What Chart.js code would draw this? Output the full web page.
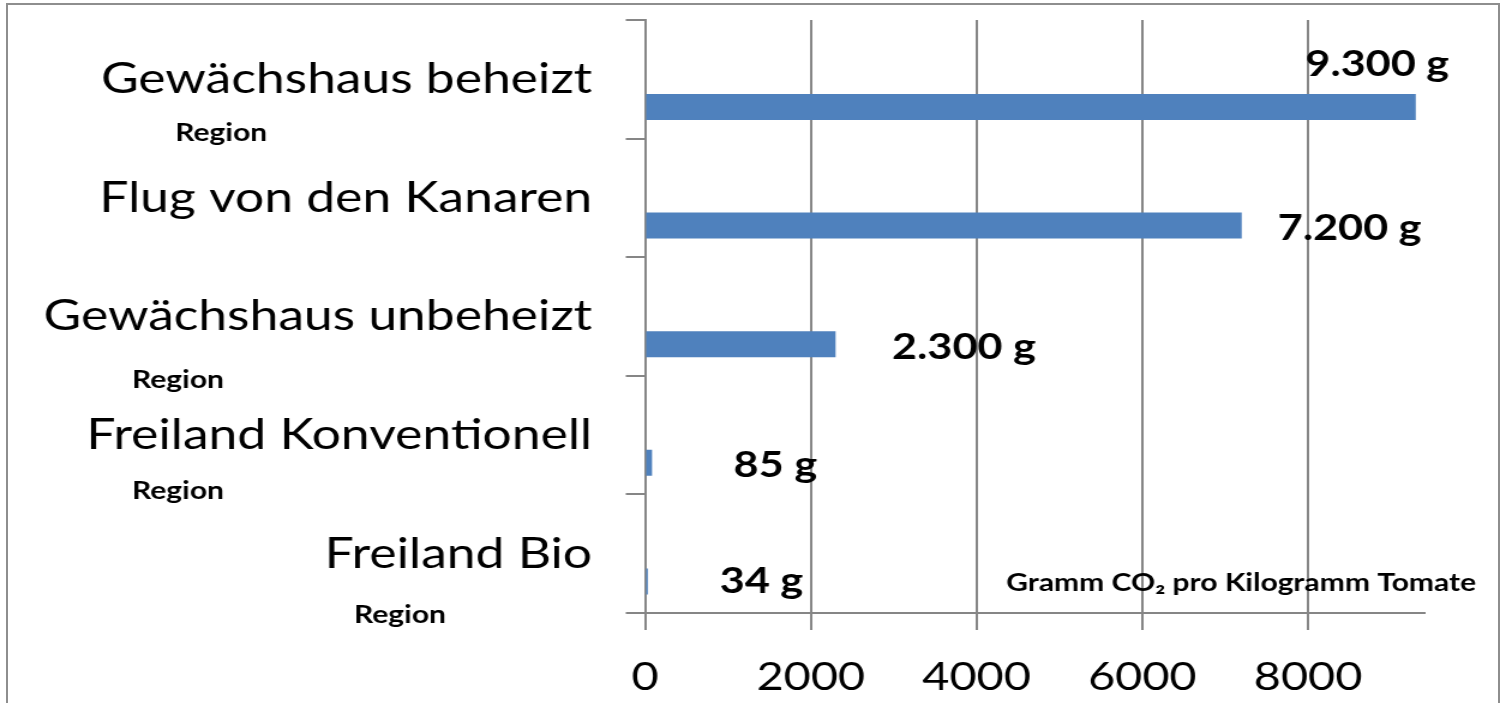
<!DOCTYPE html>
<html>
<head>
<meta charset="utf-8">
<script src="https://cdn.jsdelivr.net/npm/chart.js@4/dist/chart.umd.min.js"></script>
<style>
  html, body { margin: 0; padding: 0; background: #fff; overflow: hidden; }
  #frame { position: absolute; left: 6px; top: 3px; width: 1490px; height: 720px; border: 2px solid #8e8e8e; border-bottom: none; }
  /* the original picture is stretched sideways, so the canvas is too */
  #wrap { position: absolute; left: 0; top: 0; width: 1253.33px; height: 703px; transform: scaleX(1.2); transform-origin: 0 0; }
</style>
</head>
<body>
<div id="frame"></div>
<div id="wrap"><canvas id="chart"></canvas></div>
<script>
const categories = ['Gewächshaus beheizt', 'Flug von den Kanaren', 'Gewächshaus unbeheizt', 'Freiland Konventionell', 'Freiland Bio'];
const values = [9300, 7200, 2300, 85, 34];
const valueLabels = ['9.300 g', '7.200 g', '2.300 g', '85 g', '34 g'];
const subLabels = ['Region', '', 'Region', 'Region', 'Region'];
const xTicks = [0, 2000, 4000, 6000, 8000];
const unitText = 'Gramm CO\u2082 pro Kilogramm Tomate';

const FONT = 'Lato, "Noto Sans", sans-serif';
const GRID = '#868686';

// label placement (canvas px), hand-tuned like the moved labels in the original
const valueOffsets = [[-92, -43], [30, 3], [47, 3], [68, 3], [60, 0]];
const subLabelPos = [[146, 54], null, [110, 63], [110, 56], [295, 61]];

const textPlugin = {
  id: 'texts',
  afterDatasetsDraw(chart) {
    const ctx = chart.ctx;
    const meta = chart.getDatasetMeta(1);
    const yScale = chart.scales.y;
    ctx.save();
    ctx.fillStyle = '#000';
    ctx.textBaseline = 'middle';
    ctx.textAlign = 'left';
    ctx.font = 'bold 36px ' + FONT;
    meta.data.forEach((bar, i) => {
      const [dx, dy] = valueOffsets[i];
      ctx.fillText(valueLabels[i], bar.x + dx, bar.y + dy);
    });
    ctx.font = 'bold 25px ' + FONT;
    subLabels.forEach((txt, i) => {
      if (!txt) return;
      const [x, dy] = subLabelPos[i];
      ctx.fillText(txt, x, yScale.getPixelForValue(i) + dy);
    });
    ctx.font = 'bold 25px ' + FONT;
    ctx.textAlign = 'right';
    ctx.fillText(unitText, 1230, 583);
    ctx.restore();
  }
};

new Chart(document.getElementById('chart'), {
  type: 'bar',
  data: {
    labels: categories,
    datasets: [
      { data: categories.map(() => null), backgroundColor: '#4f81bd' },
      { data: values, backgroundColor: '#4f81bd' }
    ]
  },
  options: {
    indexAxis: 'y',
    responsive: true,
    maintainAspectRatio: false,
    animation: false,
    layout: { padding: { top: 20, right: 66.6, left: 0, bottom: 0 } },
    categoryPercentage: 0.934,
    barPercentage: 0.47,
    plugins: { legend: { display: false }, tooltip: { enabled: false } },
    scales: {
      x: {
        min: 0,
        max: 9400,
        afterFit(scale) { scale.height = 90; },
        afterBuildTicks(scale) { scale.ticks = xTicks.map(v => ({ value: v })); },
        ticks: {
          stepSize: 2000, includeBounds: false, color: '#000', padding: 24,
          font: { family: FONT, size: 39 },
          callback: v => String(v)
        },
        grid: { color: GRID, lineWidth: 2, tickLength: 17 },
        border: { color: GRID, width: 2 }
      },
      y: {
        afterFit(scale) {
          scale.width = 537.5;
          scale.paddingTop = 0;
          scale.paddingBottom = 0;
        },
        ticks: { color: '#000', padding: 28, font: { family: FONT, size: 43 } },
        grid: { color: GRID, lineWidth: 2, tickLength: 16, drawOnChartArea: false },
        border: { color: GRID, width: 2 }
      }
    }
  },
  plugins: [textPlugin]
});
</script>
</body>
</html>
